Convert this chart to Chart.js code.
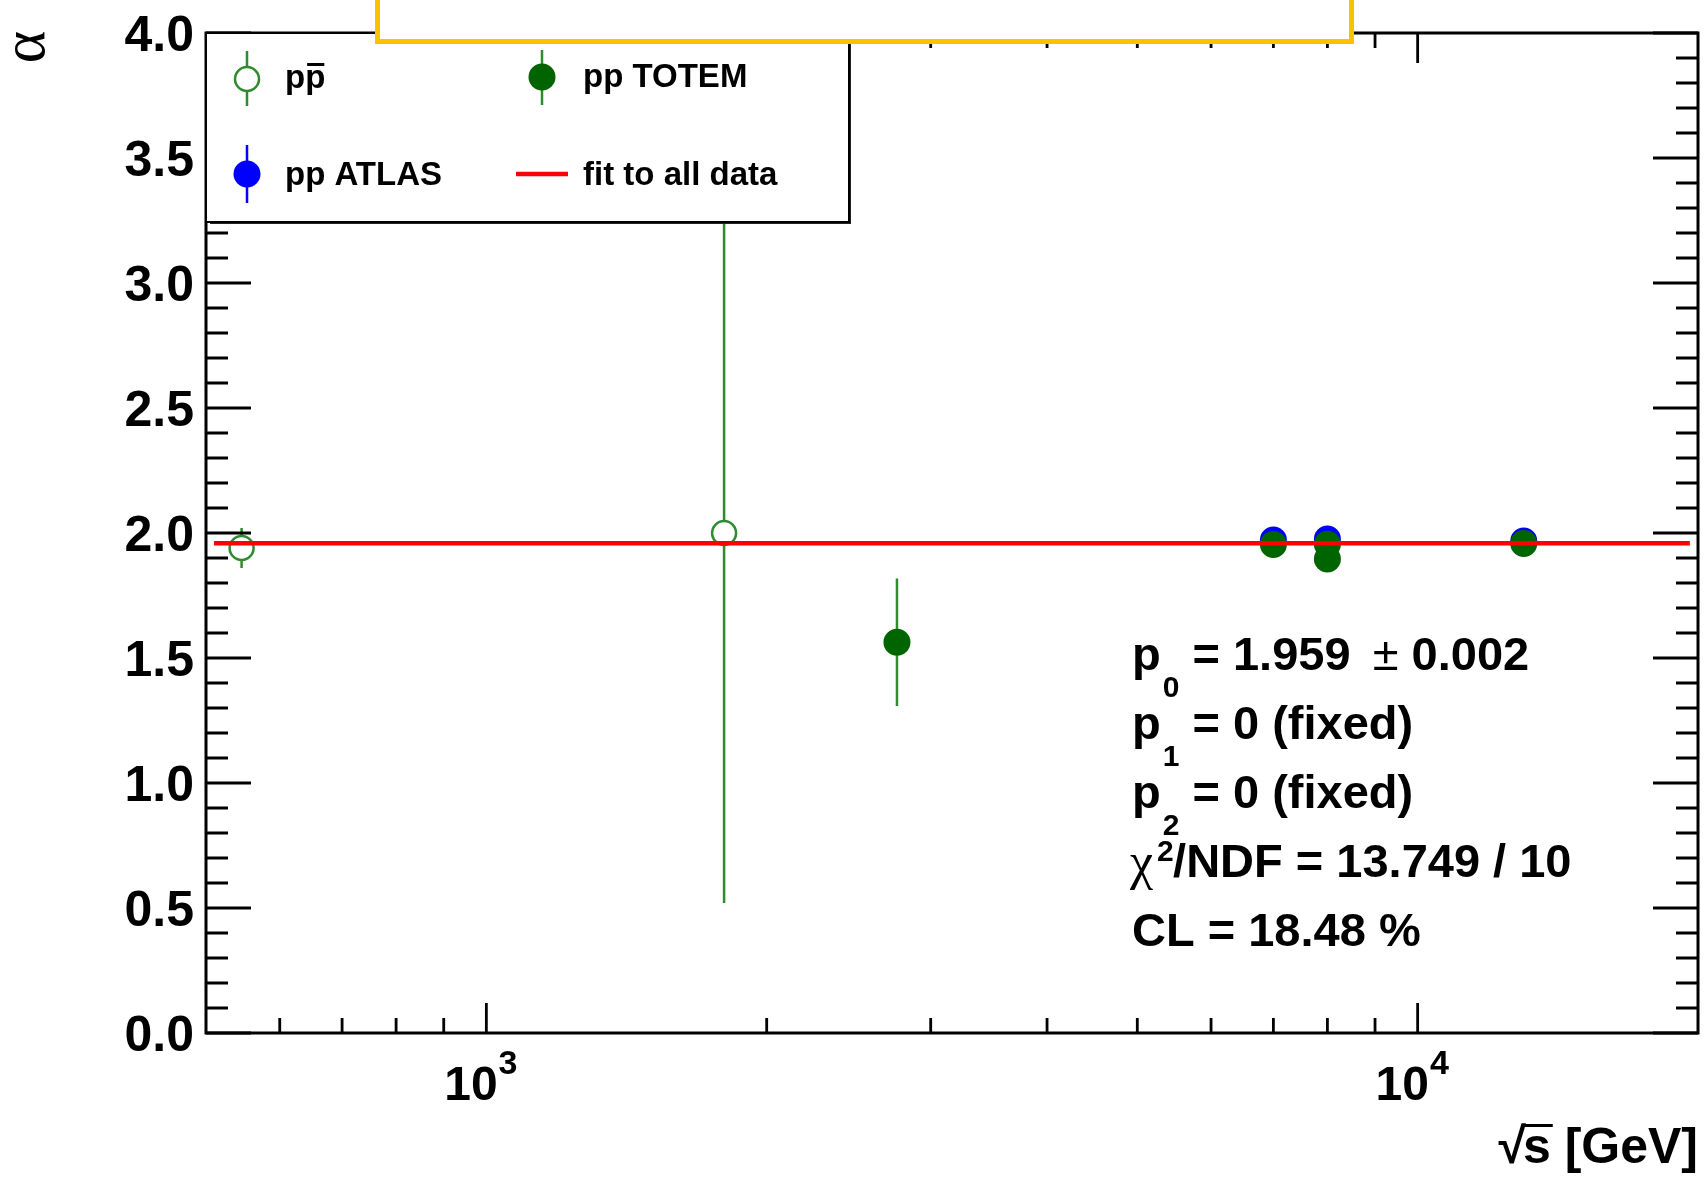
<!DOCTYPE html>
<html>
<head>
<meta charset="utf-8">
<script src="https://cdn.jsdelivr.net/npm/chart.js@4.4.1/dist/chart.umd.min.js"></script>
<style>
  html, body { margin: 0; padding: 0; background: #fff; }
  canvas { display: block; }
</style>
</head>
<body>
<canvas id="myChart" width="1704" height="1178"></canvas>
<script>
// sqrt(s) in GeV, alpha values and their errors
const ppbarX = [546, 1800];
const ppbarY = [1.94, 2.0];
const ppbarErr = [0.08, 1.48];

const totemX = [2760, 7000, 8000, 8000, 13000];
const totemY = [1.563, 1.954, 1.955, 1.896, 1.958];
const totemErr = [0.255, 0.03, 0.03, 0.03, 0.03];

const atlasX = [7000, 8000, 13000];
const atlasY = [1.972, 1.976, 1.968];
const atlasErr = [0.01, 0.01, 0.01];

const fitValue = 1.959;
const fitRange = [510, 19600];

const yTickLabels = ['0.0', '0.5', '1.0', '1.5', '2.0', '2.5', '3.0', '3.5', '4.0'];
const xTickExponents = [3, 4];

const SANS = '"Liberation Sans", Arial, sans-serif';
const SERIF = '"Liberation Serif", "Times New Roman", serif';
const GREEN_LINE = '#2e8b2e';
const GREEN_DARK = '#006400';

function toPoints(xs, ys) {
    return xs.map((x, i) => ({ x: x, y: ys[i] }));
}

// vertical error bar broken at the marker, like ROOT draws it
function errorBar(ctx, px, yTop, yBot, py, r, color) {
    ctx.strokeStyle = color;
    ctx.lineWidth = 2.5;
    ctx.beginPath();
    if (yTop < py - r) { ctx.moveTo(px, yTop); ctx.lineTo(px, py - r); }
    if (yBot > py + r) { ctx.moveTo(px, py + r); ctx.lineTo(px, yBot); }
    ctx.stroke();
}

const errSets = [
    { ds: 1, err: totemErr, color: GREEN_LINE },
    { ds: 2, err: atlasErr, color: '#0000ff' },
    { ds: 3, err: ppbarErr, color: GREEN_LINE },
];

const rootStyle = {
    id: 'rootStyle',
    beforeDatasetsDraw(chart) {
        const ctx = chart.ctx;
        const area = chart.chartArea;
        const xs = chart.scales.x, ys = chart.scales.y;
        ctx.save();
        ctx.beginPath();
        ctx.rect(area.left, area.top, area.right - area.left, area.bottom - area.top);
        ctx.clip();
        errSets.forEach(s => {
            const data = chart.data.datasets[s.ds].data;
            data.forEach((p, i) => {
                const px = xs.getPixelForValue(p.x);
                const py = ys.getPixelForValue(p.y);
                errorBar(ctx, px, ys.getPixelForValue(p.y + s.err[i]), ys.getPixelForValue(p.y - s.err[i]), py, 13, s.color);
            });
        });
        ctx.restore();
    },
    afterDatasetsDraw(chart) {
        const ctx = chart.ctx;
        const a = chart.chartArea;
        const xs = chart.scales.x, ys = chart.scales.y;
        ctx.save();

        // frame
        ctx.strokeStyle = '#000';
        ctx.lineWidth = 3;
        ctx.strokeRect(a.left, a.top, a.right - a.left, a.bottom - a.top);

        // y ticks, both sides, inside
        ctx.lineWidth = 2.8;
        ctx.beginPath();
        for (let i = 0; i <= 40; i++) {
            const py = ys.getPixelForValue(i / 10);
            const len = i % 5 === 0 ? 45 : 22;
            ctx.moveTo(a.left, py); ctx.lineTo(a.left + len, py);
            ctx.moveTo(a.right, py); ctx.lineTo(a.right - len, py);
        }
        // x ticks, bottom and top
        for (let d = 2; d <= 4; d++) {
            for (let m = 1; m <= 9; m++) {
                const v = m * Math.pow(10, d);
                if (v <= 500 || v >= 20000) continue;
                const px = xs.getPixelForValue(v);
                const len = m === 1 ? 30 : 15;
                ctx.moveTo(px, a.bottom); ctx.lineTo(px, a.bottom - len);
                ctx.moveTo(px, a.top); ctx.lineTo(px, a.top + len);
            }
        }
        ctx.stroke();

        // y tick labels
        ctx.fillStyle = '#000';
        ctx.font = 'bold 50px ' + SANS;
        ctx.textAlign = 'right';
        ctx.textBaseline = 'alphabetic';
        yTickLabels.forEach(lbl => {
            const py = ys.getPixelForValue(parseFloat(lbl));
            ctx.fillText(lbl, a.left - 12, py + 18);
        });

        // x tick labels 10^n
        ctx.textAlign = 'left';
        xTickExponents.forEach(e => {
            const px = xs.getPixelForValue(Math.pow(10, e));
            ctx.font = 'bold 48px ' + SANS;
            const w1 = ctx.measureText('10').width;
            ctx.font = 'bold 34px ' + SANS;
            const w2 = ctx.measureText(String(e)).width;
            const x0 = px - (w1 + w2) / 2 - 6;
            ctx.font = 'bold 48px ' + SANS;
            ctx.fillText('10', x0, 1100);
            ctx.font = 'bold 34px ' + SANS;
            ctx.fillText(String(e), x0 + w1 + 1, 1074);
        });

        // x axis title
        ctx.font = 'bold 50px ' + SANS;
        ctx.textAlign = 'right';
        const tail = 's [GeV]';
        const tw = ctx.measureText(tail).width;
        ctx.fillText(tail, a.right, 1163);
        const sw = ctx.measureText('s').width;
        ctx.font = 'bold 50px ' + SANS;
        ctx.fillText('\u221A', a.right - tw + 3, 1163);
        ctx.fillRect(a.right - tw, 1124, sw + 2, 3);

        // y axis title, rotated alpha
        ctx.save();
        ctx.translate(44, 47);
        ctx.rotate(-Math.PI / 2);
        ctx.font = '62px ' + SERIF;
        ctx.textAlign = 'center';
        ctx.fillText('\u03B1', 0, 0);
        ctx.restore();

        // legend box
        const L = { x: 206, y: 33, w: 643, h: 189 };
        ctx.fillStyle = '#fff';
        ctx.fillRect(L.x, L.y, L.w, L.h);
        ctx.fillStyle = '#222';
        ctx.fillRect(L.x + L.w - 1, L.y + 4, 3, L.h - 2);
        ctx.fillRect(L.x + 4, L.y + L.h - 1, L.w - 2, 3);
        ctx.strokeStyle = '#000';
        ctx.lineWidth = 2;
        ctx.strokeRect(L.x, L.y, L.w, L.h);

        errorBar(ctx, 247, 51, 106, 79, 13, GREEN_LINE);
        ctx.beginPath(); ctx.arc(247, 79, 12, 0, Math.PI * 2);
        ctx.strokeStyle = GREEN_LINE; ctx.lineWidth = 2.5; ctx.stroke();

        errorBar(ctx, 542, 50, 105, 77, 13, GREEN_LINE);
        ctx.beginPath(); ctx.arc(542, 77, 13.5, 0, Math.PI * 2);
        ctx.fillStyle = GREEN_DARK; ctx.fill();

        errorBar(ctx, 247, 145, 203, 174, 13, '#0000ff');
        ctx.beginPath(); ctx.arc(247, 174, 13.5, 0, Math.PI * 2);
        ctx.fillStyle = '#0000ff'; ctx.fill();

        ctx.strokeStyle = '#ff0000'; ctx.lineWidth = 4.5;
        ctx.beginPath(); ctx.moveTo(516, 174); ctx.lineTo(568, 174); ctx.stroke();

        ctx.fillStyle = '#000';
        ctx.textAlign = 'left';
        ctx.font = 'bold 33px ' + SANS;
        ctx.fillText('pp', 285, 88);
        const pw = ctx.measureText('p').width;
        ctx.fillRect(285 + pw + 2, 63, pw - 3, 3);
        ctx.fillText('pp TOTEM', 583, 87);
        ctx.fillText('pp ATLAS', 285, 185);
        ctx.fillText('fit to all data', 583, 185);

        // fit results
        const fx = 1132;
        const base = [670, 739, 808, 877, 946];
        const big = 'bold 47px ' + SANS;
        function pSub(sub, y) {
            ctx.font = big;
            ctx.fillText('p', fx, y);
            const w = ctx.measureText('p').width;
            ctx.font = 'bold 30px ' + SANS;
            ctx.fillText(sub, fx + w + 2, y + 27);
            return fx + w + 2 + ctx.measureText(sub).width;
        }
        let x = pSub('0', base[0]);
        ctx.font = big;
        ctx.fillText(' = 1.959  ', x, base[0]);
        x += ctx.measureText(' = 1.959  ').width - 4;
        ctx.font = '47px ' + SANS;
        ctx.fillText('\u00B1', x, base[0]);
        x += ctx.measureText('\u00B1').width;
        ctx.font = big;
        ctx.fillText(' 0.002', x, base[0]);

        x = pSub('1', base[1]);
        ctx.font = big;
        ctx.fillText(' = 0 (fixed)', x, base[1]);
        x = pSub('2', base[2]);
        ctx.font = big;
        ctx.fillText(' = 0 (fixed)', x, base[2]);

        ctx.font = '52px ' + SERIF;
        ctx.fillText('\u03C7', fx - 2, base[3] + 2);
        x = fx - 2 + ctx.measureText('\u03C7').width;
        ctx.font = 'bold 30px ' + SANS;
        ctx.fillText('2', x + 4, base[3] - 16);
        ctx.font = big;
        ctx.fillText('/NDF = 13.749 / 10', x + 20, base[3]);
        ctx.fillText('CL = 18.48 %', fx, base[4]);

        // empty orange title box at the top
        ctx.fillStyle = '#fff';
        ctx.fillRect(375, -10, 979, 54);
        ctx.strokeStyle = '#ffc000';
        ctx.lineWidth = 5;
        ctx.strokeRect(377.5, -10, 974, 51.5);

        ctx.restore();
    }
};

const ctx = document.getElementById('myChart');
new Chart(ctx, {
    type: 'scatter',
    data: {
        datasets: [
            {
                label: 'fit to all data',
                type: 'line',
                data: [{ x: fitRange[0], y: fitValue }, { x: fitRange[1], y: fitValue }],
                borderColor: '#ff0000',
                borderWidth: 4.5,
                pointRadius: 0,
                order: 0,
            },
            {
                label: 'pp TOTEM',
                data: toPoints(totemX, totemY),
                backgroundColor: GREEN_DARK,
                borderWidth: 0,
                pointRadius: 13.5,
                order: 1,
            },
            {
                label: 'pp ATLAS',
                data: toPoints(atlasX, atlasY),
                backgroundColor: '#0000ff',
                borderWidth: 0,
                pointRadius: 13.5,
                order: 2,
            },
            {
                label: 'p\u0305p',
                data: toPoints(ppbarX, ppbarY),
                backgroundColor: 'rgba(0,0,0,0)',
                borderColor: GREEN_LINE,
                borderWidth: 2.5,
                pointRadius: 12,
                order: 3,
            },
        ]
    },
    options: {
        responsive: false,
        animation: false,
        layout: { autoPadding: false, padding: { left: 206, top: 33, right: 6, bottom: 145 } },
        scales: {
            x: { type: 'logarithmic', min: 500, max: 20000, display: false },
            y: { type: 'linear', min: 0, max: 4, display: false },
        },
        plugins: {
            legend: { display: false },
            tooltip: { enabled: false },
        },
    },
    plugins: [rootStyle],
});
</script>
</body>
</html>
